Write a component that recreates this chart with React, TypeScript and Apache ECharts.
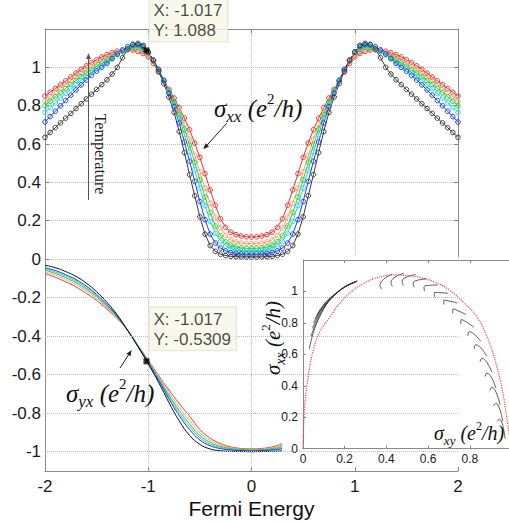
import React, { useEffect, useRef } from 'react';
import * as echarts from 'echarts';

// ---------- sampling grids (Fermi energy) ----------
const fermiEnergy: number[] = Array.from({ length: 81 }, (_, i) => +(-2 + i * 0.05).toFixed(2));
const fermiEnergyHall: number[] = Array.from({ length: 41 }, (_, i) => +(-2 + i * 0.1).toFixed(1));

// ---------- top panel: sigma_xx for six temperatures (hot -> cold) ----------
const sxxRed = [
  0.85, 0.87, 0.89, 0.91, 0.93, 0.95, 0.97, 0.99, 1.008, 1.025,
  1.04, 1.054, 1.066, 1.076, 1.084, 1.09, 1.092, 1.09, 1.083, 1.072,
  1.055, 1.02, 0.975, 0.93, 0.885, 0.84, 0.79, 0.735, 0.675, 0.605,
  0.53, 0.445, 0.36, 0.28, 0.21, 0.165, 0.14, 0.127, 0.12, 0.116,
  0.115,
  0.116, 0.12, 0.127, 0.14, 0.165, 0.21, 0.28, 0.36, 0.445, 0.53,
  0.605, 0.675, 0.735, 0.79, 0.84, 0.885, 0.93, 0.975, 1.02, 1.055,
  1.072, 1.083, 1.09, 1.092, 1.09, 1.084, 1.076, 1.066, 1.054, 1.04,
  1.025, 1.008, 0.99, 0.97, 0.95, 0.93, 0.91, 0.89, 0.87, 0.85,
];
const sxxOrange = [
  0.825, 0.847, 0.869, 0.89, 0.911, 0.931, 0.95, 0.969, 0.987, 1.005,
  1.021, 1.036, 1.05, 1.062, 1.073, 1.083, 1.09, 1.095, 1.094, 1.087,
  1.066, 1.03, 0.983, 0.932, 0.88, 0.826, 0.77, 0.703, 0.625, 0.54,
  0.455, 0.37, 0.29, 0.218, 0.162, 0.123, 0.1, 0.089, 0.083, 0.081,
  0.08,
  0.081, 0.083, 0.089, 0.1, 0.123, 0.162, 0.218, 0.29, 0.37, 0.455,
  0.54, 0.625, 0.703, 0.77, 0.826, 0.88, 0.932, 0.983, 1.03, 1.066,
  1.087, 1.094, 1.095, 1.09, 1.083, 1.073, 1.062, 1.05, 1.036, 1.021,
  1.005, 0.987, 0.969, 0.95, 0.931, 0.911, 0.89, 0.869, 0.847, 0.825,
];
const sxxGreen = [
  0.8, 0.823, 0.846, 0.868, 0.89, 0.911, 0.931, 0.951, 0.97, 0.988,
  1.005, 1.022, 1.038, 1.053, 1.068, 1.082, 1.095, 1.103, 1.105, 1.098,
  1.075, 1.035, 0.987, 0.933, 0.877, 0.82, 0.755, 0.678, 0.595, 0.505,
  0.413, 0.323, 0.242, 0.172, 0.121, 0.09, 0.072, 0.063, 0.058, 0.056,
  0.055,
  0.056, 0.058, 0.063, 0.072, 0.09, 0.121, 0.172, 0.242, 0.323, 0.413,
  0.505, 0.595, 0.678, 0.755, 0.82, 0.877, 0.933, 0.987, 1.035, 1.075,
  1.098, 1.105, 1.103, 1.095, 1.082, 1.068, 1.053, 1.038, 1.022, 1.005,
  0.988, 0.97, 0.951, 0.931, 0.911, 0.89, 0.868, 0.846, 0.823, 0.8,
];
const sxxCyan = [
  0.765, 0.79, 0.815, 0.84, 0.865, 0.888, 0.91, 0.932, 0.953, 0.973,
  0.992, 1.01, 1.028, 1.047, 1.065, 1.083, 1.1, 1.11, 1.112, 1.103,
  1.078, 1.036, 0.988, 0.932, 0.872, 0.81, 0.737, 0.65, 0.56, 0.465,
  0.37, 0.278, 0.196, 0.134, 0.093, 0.068, 0.054, 0.047, 0.043, 0.041,
  0.04,
  0.041, 0.043, 0.047, 0.054, 0.068, 0.093, 0.134, 0.196, 0.278, 0.37,
  0.465, 0.56, 0.65, 0.737, 0.81, 0.872, 0.932, 0.988, 1.036, 1.078,
  1.103, 1.112, 1.11, 1.1, 1.083, 1.065, 1.047, 1.028, 1.01, 0.992,
  0.973, 0.953, 0.932, 0.91, 0.888, 0.865, 0.84, 0.815, 0.79, 0.765,
];
const sxxBlue = [
  0.715, 0.743, 0.771, 0.799, 0.827, 0.855, 0.882, 0.908, 0.934, 0.958,
  0.98, 1.0, 1.02, 1.045, 1.07, 1.09, 1.108, 1.117, 1.118, 1.108,
  1.08, 1.038, 0.99, 0.93, 0.865, 0.795, 0.71, 0.61, 0.51, 0.405,
  0.3, 0.205, 0.13, 0.083, 0.057, 0.042, 0.034, 0.03, 0.027, 0.026,
  0.025,
  0.026, 0.027, 0.03, 0.034, 0.042, 0.057, 0.083, 0.13, 0.205, 0.3,
  0.405, 0.51, 0.61, 0.71, 0.795, 0.865, 0.93, 0.99, 1.038, 1.08,
  1.108, 1.118, 1.117, 1.108, 1.09, 1.07, 1.045, 1.02, 1.0, 0.98,
  0.958, 0.934, 0.908, 0.882, 0.855, 0.827, 0.799, 0.771, 0.743, 0.715,
];
const sxxBlack = [
  0.635, 0.66, 0.685, 0.71, 0.735, 0.76, 0.785, 0.81, 0.835, 0.86,
  0.885, 0.91, 0.935, 0.965, 1.0, 1.05, 1.095, 1.12, 1.125, 1.115,
  1.08, 1.035, 0.98, 0.915, 0.845, 0.765, 0.665, 0.555, 0.44, 0.33,
  0.22, 0.13, 0.07, 0.04, 0.025, 0.018, 0.014, 0.012, 0.011, 0.01,
  0.01,
  0.01, 0.011, 0.012, 0.014, 0.018, 0.025, 0.04, 0.07, 0.13, 0.22,
  0.33, 0.44, 0.555, 0.665, 0.765, 0.845, 0.915, 0.98, 1.035, 1.08,
  1.115, 1.125, 1.12, 1.095, 1.05, 1.0, 0.965, 0.935, 0.91, 0.885,
  0.86, 0.835, 0.81, 0.785, 0.76, 0.735, 0.71, 0.685, 0.66, 0.635,
];

// ---------- lower panel: sigma_yx ----------
const syxRed = [
  -0.075, -0.095, -0.118, -0.145, -0.178, -0.215, -0.26, -0.31, -0.37, -0.447,
  -0.525, -0.605, -0.68, -0.75, -0.815, -0.885, -0.93, -0.958, -0.975, -0.983,
  -0.985,
  -0.983, -0.975, -0.958, -0.93, -0.885, -0.815, -0.75, -0.68, -0.605, -0.525,
  -0.447, -0.37, -0.31, -0.26, -0.215, -0.178, -0.145, -0.118, -0.095, -0.075,
];
const syxOrange = [
  -0.066, -0.084, -0.106, -0.133, -0.166, -0.205, -0.252, -0.306, -0.37, -0.449,
  -0.529, -0.613, -0.694, -0.77, -0.837, -0.902, -0.942, -0.966, -0.98, -0.987,
  -0.988,
  -0.987, -0.98, -0.966, -0.942, -0.902, -0.837, -0.77, -0.694, -0.613, -0.529,
  -0.449, -0.37, -0.306, -0.252, -0.205, -0.166, -0.133, -0.106, -0.084, -0.066,
];
const syxGreen = [
  -0.058, -0.075, -0.097, -0.123, -0.157, -0.197, -0.246, -0.302, -0.37, -0.45,
  -0.533, -0.619, -0.706, -0.786, -0.855, -0.916, -0.952, -0.973, -0.984, -0.989,
  -0.991,
  -0.989, -0.984, -0.973, -0.952, -0.916, -0.855, -0.786, -0.706, -0.619, -0.533,
  -0.45, -0.37, -0.302, -0.246, -0.197, -0.157, -0.123, -0.097, -0.075, -0.058,
];
const syxCyan = [
  -0.051, -0.068, -0.089, -0.115, -0.149, -0.19, -0.241, -0.299, -0.37, -0.451,
  -0.536, -0.624, -0.716, -0.8, -0.87, -0.927, -0.961, -0.978, -0.988, -0.992,
  -0.993,
  -0.992, -0.988, -0.978, -0.961, -0.927, -0.87, -0.8, -0.716, -0.624, -0.536,
  -0.451, -0.37, -0.299, -0.241, -0.19, -0.149, -0.115, -0.089, -0.068, -0.051,
];
const syxBlue = [
  -0.045, -0.06, -0.081, -0.107, -0.141, -0.184, -0.236, -0.296, -0.37, -0.453,
  -0.539, -0.63, -0.726, -0.813, -0.885, -0.939, -0.969, -0.984, -0.991, -0.994,
  -0.996,
  -0.994, -0.991, -0.984, -0.969, -0.939, -0.885, -0.813, -0.726, -0.63, -0.539,
  -0.453, -0.37, -0.296, -0.236, -0.184, -0.141, -0.107, -0.081, -0.06, -0.045,
];
const syxBlack = [
  -0.032, -0.045, -0.065, -0.09, -0.125, -0.17, -0.225, -0.29, -0.37, -0.455,
  -0.545, -0.64, -0.745, -0.84, -0.915, -0.962, -0.986, -0.995, -0.998, -0.999,
  -1.0,
  -0.999, -0.998, -0.995, -0.986, -0.962, -0.915, -0.84, -0.745, -0.64, -0.545,
  -0.455, -0.37, -0.29, -0.225, -0.17, -0.125, -0.09, -0.065, -0.045, -0.032,
];

const tempColors = ['#e8332f', '#f3a072', '#2fcf2f', '#25d4e0', '#2040e0', '#3a3a3a'];
const hallColors = ['#f03a33', '#f7a477', '#22c722', '#1cc9d6', '#1a33e6', '#111111'];
const sxxCurves = [sxxRed, sxxOrange, sxxGreen, sxxCyan, sxxBlue, sxxBlack];
const syxCurves = [syxRed, syxOrange, syxGreen, syxCyan, syxBlue, syxBlack];

// ---------- data tips ----------
const tipEnergy = -1.017;
const tipSxx = 1.088;
const tipSyx = -0.5309;

// ---------- gridlines of lower panel ----------
const hallGridValues = [-1, -0.8, -0.6, -0.4, -0.2];

// ---------- inset: sigma_xx vs sigma_xy ----------
const insetLimitSxy = [0, 0.005, 0.015, 0.03, 0.05, 0.08, 0.13, 0.18, 0.233, 0.29, 0.337, 0.4, 0.45, 0.5, 0.56, 0.63, 0.7, 0.77, 0.833, 0.88, 0.905, 0.93, 0.955, 0.977, 0.99];
const insetLimitSxx = [0, 0.2, 0.36, 0.5, 0.63, 0.74, 0.84, 0.93, 1.0, 1.05, 1.08, 1.1, 1.105, 1.1, 1.09, 1.06, 1.01, 0.93, 0.84, 0.72, 0.63, 0.52, 0.38, 0.2, 0.08];

const insetFanArcs: number[][][] = [
  [[0.03, 0.635], [0.05, 0.74], [0.08, 0.84], [0.12, 0.93], [0.18, 1.01], [0.25, 1.06]],
  [[0.038, 0.715], [0.06, 0.79], [0.09, 0.87], [0.13, 0.95], [0.19, 1.02], [0.25, 1.06]],
  [[0.045, 0.765], [0.068, 0.83], [0.1, 0.9], [0.14, 0.965], [0.195, 1.025], [0.255, 1.062]],
  [[0.05, 0.8], [0.075, 0.86], [0.108, 0.92], [0.15, 0.975], [0.2, 1.03], [0.258, 1.064]],
  [[0.058, 0.825], [0.083, 0.88], [0.115, 0.935], [0.158, 0.985], [0.205, 1.033], [0.26, 1.066]],
  [[0.066, 0.85], [0.09, 0.9], [0.122, 0.95], [0.165, 0.995], [0.21, 1.036], [0.262, 1.068]],
];
const insetHooks: number[][][] = [
  [[0.377, 1.015], [0.369, 1.039], [0.428, 1.111]],
  [[0.4285, 1.033], [0.422, 1.059], [0.484, 1.116]],
  [[0.4805, 1.0385], [0.475, 1.066], [0.54, 1.108]],
  [[0.532, 1.026], [0.528, 1.054], [0.594, 1.08]],
  [[0.5825, 1.001], [0.58, 1.03], [0.646, 1.041]],
  [[0.6305, 0.965], [0.63, 0.994], [0.695, 0.989]],
  [[0.6755, 0.917], [0.676, 0.946], [0.74, 0.927]],
  [[0.718, 0.86], [0.72, 0.889], [0.782, 0.854]],
  [[0.7565, 0.793], [0.76, 0.821], [0.82, 0.772]],
  [[0.7915, 0.718], [0.797, 0.745], [0.853, 0.683]],
  [[0.8215, 0.6355], [0.828, 0.661], [0.881, 0.588]],
  [[0.8495, 0.5515], [0.857, 0.575], [0.906, 0.487]],
  [[0.873, 0.459], [0.882, 0.481], [0.925, 0.386]],
  [[0.896, 0.3705], [0.906, 0.39], [0.945, 0.28]],
  [[0.9145, 0.272], [0.925, 0.289], [0.958, 0.175]],
  [[0.9305, 0.174], [0.942, 0.188], [0.969, 0.064]],
];

const SANS = '"Liberation Sans", Arial, Helvetica, sans-serif';
const SERIF = '"Liberation Serif", "Times New Roman", serif';
const axisGray = '#8a8a8a';
const gridDot = { type: 'dotted' as const, color: '#bcbcbc', width: 1 };

function sigmaRich(size: number) {
  const sub = Math.round(size * 0.66);
  const sup = Math.round(size * 0.6);
  return {
    g: { fontFamily: SERIF, fontStyle: 'italic', fontSize: size, lineHeight: Math.round(size * 1.35), verticalAlign: 'middle', fill: '#111' },
    sub: { fontFamily: SERIF, fontStyle: 'italic', fontSize: sub, lineHeight: sub, verticalAlign: 'bottom', fill: '#111' },
    sup: { fontFamily: SERIF, fontStyle: 'normal', fontSize: sup, lineHeight: sup, verticalAlign: 'top', fill: '#111' },
  };
}
const sigmaText = (idx: string) => `{g|σ}{sub|${idx}}{g| (e}{sup|2}{g|/h)}`;

function richLabel(x: number, y: number, idx: string, size: number, rotation = 0) {
  return {
    type: 'text',
    x,
    y,
    rotation,
    z: 20,
    style: {
      text: sigmaText(idx),
      rich: sigmaRich(size),
      align: rotation ? 'center' : 'left',
      textAlign: rotation ? 'center' : 'left',
      verticalAlign: 'middle',
      textVerticalAlign: 'middle',
    },
  };
}

function arrow(x1: number, y1: number, x2: number, y2: number, color: string) {
  const dx = x2 - x1;
  const dy = y2 - y1;
  const len = Math.sqrt(dx * dx + dy * dy);
  const ux = dx / len;
  const uy = dy / len;
  const bx = x2 - 6 * ux;
  const by = y2 - 6 * uy;
  return [
    { type: 'line', z: 20, shape: { x1, y1, x2: bx, y2: by }, style: { stroke: color, lineWidth: 1 } },
    {
      type: 'polygon',
      z: 20,
      shape: { points: [[x2, y2], [bx - 2.4 * uy, by + 2.4 * ux], [bx + 2.4 * uy, by - 2.4 * ux]] },
      style: { fill: color },
    },
  ];
}

function buildOption() {
  const topSeries = sxxCurves.map((vals, k) => ({
    type: 'line',
    xAxisIndex: 0,
    yAxisIndex: 0,
    data: vals.map((v, i) => [fermiEnergy[i], v]),
    symbol: 'circle',
    symbolSize: 4.6,
    showSymbol: true,
    showAllSymbol: true,
    clip: false,
    silent: true,
    z: 3,
    lineStyle: { color: tempColors[k], width: 1 },
    itemStyle: { color: 'rgba(255,255,255,0)', borderColor: tempColors[k], borderWidth: 1 },
  }));

  const hallSeries = syxCurves.map((vals, k) => ({
    type: 'line',
    xAxisIndex: 2,
    yAxisIndex: 2,
    data: vals.map((v, i) => [fermiEnergyHall[i], v]),
    showSymbol: false,
    smooth: 0.4,
    silent: true,
    z: 2,
    lineStyle: { color: hallColors[k], width: 1 },
    markLine:
      k === 0
        ? {
            silent: true,
            symbol: ['none', 'none'],
            label: { show: false },
            lineStyle: gridDot,
            data: hallGridValues.map((v) => ({ yAxis: v })),
          }
        : undefined,
  }));

  const insetBase = { type: 'line', xAxisIndex: 3, yAxisIndex: 3, showSymbol: false, silent: true, z: 10 };
  const insetSeries: any[] = [
    ...insetFanArcs.map((pts) => ({ ...insetBase, data: pts, smooth: 0.4, lineStyle: { color: '#333', width: 0.8 } })),
    ...insetHooks.map((pts) => ({ ...insetBase, data: pts, smooth: 0.5, lineStyle: { color: '#333', width: 0.8 } })),
    {
      ...insetBase,
      z: 11,
      data: insetLimitSxy.map((x, i) => [x, insetLimitSxx[i]]),
      smooth: 0.5,
      lineStyle: { color: '#f0453a', width: 1.2, type: 'dotted' },
    },
  ];

  const tipLabel = (y: number, dy: number) => ({
    show: true,
    position: [6, dy],
    formatter: `X: ${tipEnergy}\nY: ${y}`,
    fontFamily: SANS,
    fontSize: 17,
    lineHeight: 20,
    color: '#1a1a1a',
    backgroundColor: '#f6f7e7',
    borderColor: '#e0e0cc',
    borderWidth: 1,
    padding: [2, 5, 1, 4],
    align: 'left',
    verticalAlign: 'top',
  });

  const tipSeries = [
    {
      type: 'scatter',
      xAxisIndex: 0,
      yAxisIndex: 0,
      data: [[tipEnergy, tipSxx]],
      symbol: 'rect',
      symbolSize: 6,
      itemStyle: { color: '#000' },
      z: 15,
      silent: true,
      clip: false,
      label: tipLabel(tipSxx, -49),
    },
    {
      type: 'scatter',
      xAxisIndex: 2,
      yAxisIndex: 2,
      data: [[tipEnergy, tipSyx]],
      symbol: 'rect',
      symbolSize: 6,
      itemStyle: { color: '#000' },
      z: 15,
      silent: true,
      clip: false,
      label: tipLabel(tipSyx, -51),
    },
  ];

  const labelStyle = { fontFamily: SANS, fontSize: 17, color: '#1a1a1a' };
  const insetLabelStyle = { fontFamily: SANS, fontSize: 12, color: '#1a1a1a' };
  const tickIn = (len: number) => ({ show: true, inside: true, length: len, lineStyle: { color: axisGray } });
  const line = { show: true, onZero: false, lineStyle: { color: axisGray, width: 1 } };

  return {
    animation: false,
    backgroundColor: '#ffffff',
    grid: [
      { left: 45, top: 29, width: 413, height: 230, outerBoundsMode: 'none', containLabel: false },
      { left: 45, top: 259, width: 413, height: 212, outerBoundsMode: 'none', containLabel: false },
      { left: 303, top: 260, width: 208.5, height: 188.7, outerBoundsMode: 'none', containLabel: false },
    ],
    xAxis: [
      {
        gridIndex: 0, type: 'value', min: -2, max: 2, interval: 1,
        axisLine: { show: false, onZero: false }, axisTick: { show: false }, axisLabel: { show: false },
        splitLine: { show: true, lineStyle: gridDot },
      },
      {
        gridIndex: 0, type: 'value', position: 'top', min: -2, max: 2, interval: 1,
        axisLine: line, axisTick: tickIn(4), axisLabel: { show: false }, splitLine: { show: false },
      },
      {
        gridIndex: 1, type: 'value', position: 'bottom', min: -2, max: 2, interval: 1,
        axisLine: line, axisTick: tickIn(4),
        axisLabel: { ...labelStyle, margin: 7 },
        splitLine: { show: true, lineStyle: gridDot },
        name: 'Fermi Energy', nameLocation: 'middle', nameGap: 27,
        nameTextStyle: { fontFamily: SANS, fontSize: 21, color: '#111' },
      },
      {
        gridIndex: 2, type: 'value', position: 'bottom', min: 0, max: 1, interval: 0.2, z: 10,
        axisLine: line, axisTick: tickIn(3),
        axisLabel: { ...insetLabelStyle, margin: 4, formatter: (v: number) => (v > 0.95 ? '' : String(+v.toFixed(1))) },
        splitLine: { show: false },
      },
      {
        gridIndex: 2, type: 'value', position: 'top', min: 0, max: 1, interval: 0.2, z: 10,
        axisLine: line, axisTick: tickIn(3), axisLabel: { show: false }, splitLine: { show: false },
      },
    ],
    yAxis: [
      {
        gridIndex: 0, type: 'value', position: 'left', min: 0, max: 1.2, interval: 0.2,
        axisLine: line, axisTick: tickIn(4),
        axisLabel: { ...labelStyle, margin: 4, formatter: (v: number) => (v > 1.1 ? '' : String(+v.toFixed(1))) },
        splitLine: { show: true, lineStyle: gridDot },
      },
      {
        gridIndex: 0, type: 'value', position: 'right', min: 0, max: 1.2, interval: 0.2,
        axisLine: line, axisTick: tickIn(4), axisLabel: { show: false }, splitLine: { show: false },
      },
      {
        gridIndex: 1, type: 'value', position: 'left', min: -1.1, max: 0, interval: 0.1,
        axisLine: line, axisTick: { show: false },
        axisLabel: {
          ...labelStyle, margin: 4,
          formatter: (v: number) => {
            const k = Math.round(v * 10);
            if (k === 0 || k % 2 !== 0) return '';
            return String(k / 10);
          },
        },
        splitLine: { show: false },
      },
      {
        gridIndex: 2, type: 'value', position: 'left', min: 0, max: 1.2, interval: 0.2, z: 10,
        axisLine: line, axisTick: tickIn(3),
        axisLabel: { ...insetLabelStyle, margin: 5, formatter: (v: number) => (v > 1.1 ? '' : String(+v.toFixed(1))) },
        splitLine: { show: false },
      },
    ],
    series: [...hallSeries, ...topSeries, ...tipSeries, ...insetSeries],
    graphic: {
      elements: [
        { type: 'rect', z: 5, shape: { x: 282, y: 257, width: 240, height: 210 }, style: { fill: '#ffffff' } },
        richLabel(214, 108, 'xx', 25),
        ...arrow(226.7, 123.3, 203.3, 149.3, '#222'),
        richLabel(66, 393, 'yx', 25),
        ...arrow(120, 368, 131.7, 350, '#222'),
        {
          type: 'text', x: 100, y: 154, rotation: -Math.PI / 2, z: 20,
          style: {
            text: 'Temperature', fontFamily: SERIF, fontSize: 16, fill: '#222',
            align: 'center', textAlign: 'center', verticalAlign: 'middle', textVerticalAlign: 'middle',
          },
        },
        ...arrow(88.5, 200, 88.5, 53, '#555'),
        richLabel(434, 433, 'xy', 20),
        richLabel(273, 338, 'xx', 21, Math.PI / 2),
      ],
    },
  };
}

export default function App() {
  const ref = useRef<HTMLDivElement>(null);
  useEffect(() => {
    if (!ref.current) return;
    const chart = echarts.init(ref.current, null, { renderer: 'svg' });
    chart.setOption(buildOption() as any);
    return () => chart.dispose();
  }, []);
  return (
    <div style={{ position: 'absolute', left: 0, top: 0, width: 509, height: 523, overflow: 'hidden', background: '#fff' }}>
      <div ref={ref} style={{ position: 'absolute', left: 0, top: 0, width: 524, height: 523 }} />
    </div>
  );
}
